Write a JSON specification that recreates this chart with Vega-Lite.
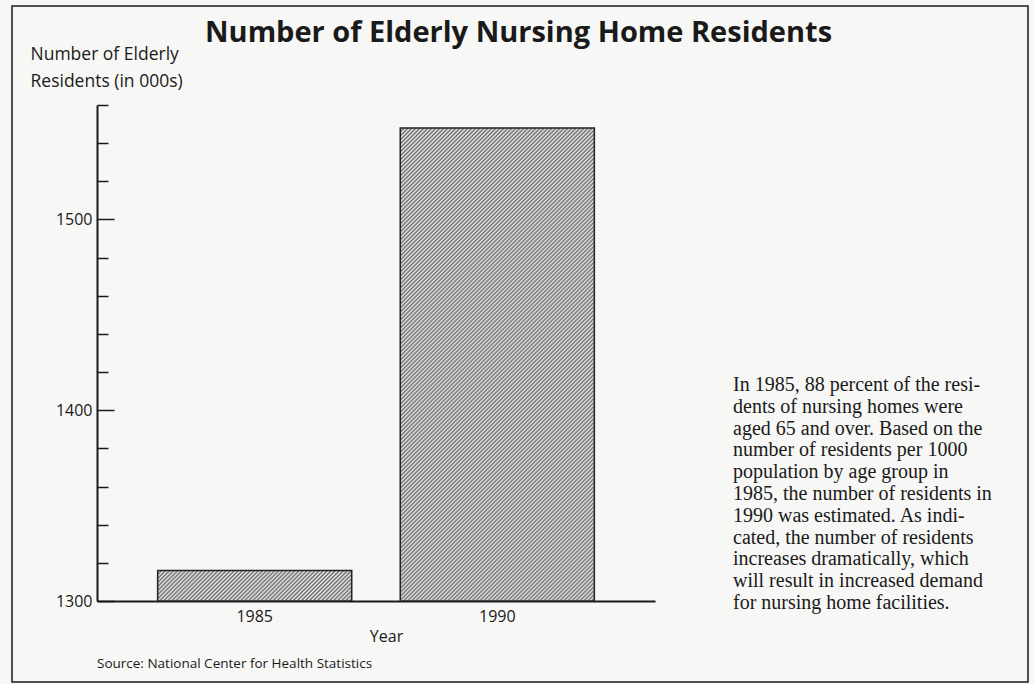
{
  "$schema": "https://vega.github.io/schema/vega-lite/v6.json",
  "autosize": "none",
  "width": 558,
  "height": 496,
  "padding": {"left": 97, "top": 105, "right": 379, "bottom": 83},
  "background": "#f7f7f5",
  "config": {"view": {"stroke": null}, "font": "Open Sans"},
  "title": {
    "text": "Number of Elderly Nursing Home Residents",
    "font": "Open Sans",
    "fontWeight": "bold",
    "fontSize": 29,
    "color": "#1a1a1a",
    "anchor": "start",
    "frame": "group",
    "baseline": "alphabetic",
    "dx": 108,
    "offset": -66
  },
  "layer": [
    {
      "data": {"values": [{}]},
      "mark": {
        "type": "rect",
        "x": {"expr": "-85"},
        "x2": {"expr": "width + 373"},
        "y": {"expr": "-99"},
        "y2": {"expr": "height + 81"},
        "fill": null,
        "stroke": "#1a1a1a",
        "strokeWidth": 1.5
      },
      "encoding": {}
    },
    {
      "data": {
        "values": [
          {"Year": "1985", "Residents": 1316},
          {"Year": "1990", "Residents": 1548}
        ]
      },
      "mark": {"type": "bar", "stroke": "#222222", "strokeWidth": 1.5},
      "encoding": {
        "x": {
          "field": "Year",
          "type": "nominal",
          "scale": {"paddingInner": 0.2, "paddingOuter": 0.25},
          "axis": {
            "title": "Year",
            "labelAngle": 0,
            "ticks": false,
            "domainColor": "#1a1a1a",
            "domainWidth": 2,
            "labelFont": "Open Sans",
            "labelFontSize": 16,
            "labelColor": "#1a1a1a",
            "labelPadding": 7,
            "titleFont": "Open Sans",
            "titleFontSize": 16,
            "titleFontWeight": "normal",
            "titleColor": "#1a1a1a",
            "titlePadding": 4,
            "titleX": 289
          }
        },
        "y": {
          "field": "Residents",
          "type": "quantitative",
          "scale": {"domain": [1300, 1560], "zero": false, "nice": false},
          "axis": {
            "values": [1300, 1320, 1340, 1360, 1380, 1400, 1420, 1440, 1460, 1480, 1500, 1520, 1540, 1560],
            "labelExpr": "datum.value % 100 === 0 ? datum.label : ''",
            "format": "d",
            "grid": false,
            "tickSize": {"condition": {"test": "datum.value % 100 === 0", "value": -17}, "value": -11},
            "tickColor": "#1a1a1a",
            "tickWidth": 1.5,
            "domainColor": "#1a1a1a",
            "domainWidth": 2,
            "labelFont": "Open Sans",
            "labelFontSize": 16,
            "labelColor": "#1a1a1a",
            "labelPadding": 22,
            "title": ["Number of Elderly", "Residents (in 000s)"],
            "titleAngle": 0,
            "titleAlign": "left",
            "titleBaseline": "top",
            "titleX": -67,
            "titleY": -60,
            "titleFont": "Open Sans",
            "titleFontSize": 17.5,
            "titleFontWeight": "normal",
            "titleColor": "#1a1a1a",
            "titleLineHeight": 27
          }
        },
        "y2": {"datum": 1300},
        "fill": {
          "condition": {
            "test": "datum.Year === '1985'",
            "value": {
              "gradient": "linear", "x1": 0, "y1": 0, "x2": 1.1293, "y2": 0.17745,
              "stops": [
                {"offset":0,"color":"#666"},{"offset":0.009,"color":"#eee"},{"offset":0.018,"color":"#666"},{"offset":0.027,"color":"#eee"},{"offset":0.036,"color":"#666"},{"offset":0.045,"color":"#eee"},{"offset":0.054,"color":"#666"},{"offset":0.063,"color":"#eee"},{"offset":0.072,"color":"#666"},{"offset":0.081,"color":"#eee"},
                {"offset":0.09,"color":"#666"},{"offset":0.099,"color":"#eee"},{"offset":0.108,"color":"#666"},{"offset":0.117,"color":"#eee"},{"offset":0.126,"color":"#666"},{"offset":0.135,"color":"#eee"},{"offset":0.144,"color":"#666"},{"offset":0.153,"color":"#eee"},{"offset":0.162,"color":"#666"},{"offset":0.171,"color":"#eee"},
                {"offset":0.18,"color":"#666"},{"offset":0.189,"color":"#eee"},{"offset":0.198,"color":"#666"},{"offset":0.207,"color":"#eee"},{"offset":0.216,"color":"#666"},{"offset":0.225,"color":"#eee"},{"offset":0.234,"color":"#666"},{"offset":0.243,"color":"#eee"},{"offset":0.252,"color":"#666"},{"offset":0.261,"color":"#eee"},
                {"offset":0.27,"color":"#666"},{"offset":0.279,"color":"#eee"},{"offset":0.288,"color":"#666"},{"offset":0.297,"color":"#eee"},{"offset":0.306,"color":"#666"},{"offset":0.315,"color":"#eee"},{"offset":0.324,"color":"#666"},{"offset":0.333,"color":"#eee"},{"offset":0.342,"color":"#666"},{"offset":0.351,"color":"#eee"},
                {"offset":0.36,"color":"#666"},{"offset":0.369,"color":"#eee"},{"offset":0.378,"color":"#666"},{"offset":0.387,"color":"#eee"},{"offset":0.396,"color":"#666"},{"offset":0.405,"color":"#eee"},{"offset":0.414,"color":"#666"},{"offset":0.423,"color":"#eee"},{"offset":0.432,"color":"#666"},{"offset":0.441,"color":"#eee"},
                {"offset":0.45,"color":"#666"},{"offset":0.459,"color":"#eee"},{"offset":0.468,"color":"#666"},{"offset":0.477,"color":"#eee"},{"offset":0.486,"color":"#666"},{"offset":0.495,"color":"#eee"},{"offset":0.504,"color":"#666"},{"offset":0.513,"color":"#eee"},{"offset":0.522,"color":"#666"},{"offset":0.531,"color":"#eee"},
                {"offset":0.54,"color":"#666"},{"offset":0.549,"color":"#eee"},{"offset":0.558,"color":"#666"},{"offset":0.567,"color":"#eee"},{"offset":0.576,"color":"#666"},{"offset":0.585,"color":"#eee"},{"offset":0.594,"color":"#666"},{"offset":0.603,"color":"#eee"},{"offset":0.612,"color":"#666"},{"offset":0.621,"color":"#eee"},
                {"offset":0.63,"color":"#666"},{"offset":0.639,"color":"#eee"},{"offset":0.648,"color":"#666"},{"offset":0.657,"color":"#eee"},{"offset":0.666,"color":"#666"},{"offset":0.675,"color":"#eee"},{"offset":0.684,"color":"#666"},{"offset":0.693,"color":"#eee"},{"offset":0.702,"color":"#666"},{"offset":0.711,"color":"#eee"},
                {"offset":0.72,"color":"#666"},{"offset":0.729,"color":"#eee"},{"offset":0.738,"color":"#666"},{"offset":0.747,"color":"#eee"},{"offset":0.756,"color":"#666"},{"offset":0.765,"color":"#eee"},{"offset":0.774,"color":"#666"},{"offset":0.783,"color":"#eee"},{"offset":0.792,"color":"#666"},{"offset":0.801,"color":"#eee"},
                {"offset":0.81,"color":"#666"},{"offset":0.819,"color":"#eee"},{"offset":0.828,"color":"#666"},{"offset":0.837,"color":"#eee"},{"offset":0.846,"color":"#666"},{"offset":0.855,"color":"#eee"},{"offset":0.864,"color":"#666"},{"offset":0.873,"color":"#eee"},{"offset":0.882,"color":"#666"},{"offset":0.891,"color":"#eee"},
                {"offset":0.9,"color":"#666"},{"offset":0.909,"color":"#eee"},{"offset":0.918,"color":"#666"},{"offset":0.927,"color":"#eee"},{"offset":0.936,"color":"#666"},{"offset":0.945,"color":"#eee"},{"offset":0.954,"color":"#666"},{"offset":0.963,"color":"#eee"},{"offset":0.972,"color":"#666"},{"offset":0.981,"color":"#eee"},
                {"offset":0.99,"color":"#666"},{"offset":0.999,"color":"#eee"}
              ]
            }
          },
          "value": {
            "gradient": "linear", "x1": 0, "y1": 0, "x2": 0.4953, "y2": 1.2071,
            "stops": [
              {"offset":0,"color":"#666"},{"offset":0.003,"color":"#eee"},{"offset":0.006,"color":"#666"},{"offset":0.009,"color":"#eee"},{"offset":0.012,"color":"#666"},{"offset":0.015,"color":"#eee"},{"offset":0.018,"color":"#666"},{"offset":0.021,"color":"#eee"},{"offset":0.024,"color":"#666"},{"offset":0.027,"color":"#eee"},
              {"offset":0.03,"color":"#666"},{"offset":0.033,"color":"#eee"},{"offset":0.036,"color":"#666"},{"offset":0.039,"color":"#eee"},{"offset":0.042,"color":"#666"},{"offset":0.045,"color":"#eee"},{"offset":0.048,"color":"#666"},{"offset":0.051,"color":"#eee"},{"offset":0.054,"color":"#666"},{"offset":0.057,"color":"#eee"},
              {"offset":0.06,"color":"#666"},{"offset":0.063,"color":"#eee"},{"offset":0.066,"color":"#666"},{"offset":0.069,"color":"#eee"},{"offset":0.072,"color":"#666"},{"offset":0.075,"color":"#eee"},{"offset":0.078,"color":"#666"},{"offset":0.081,"color":"#eee"},{"offset":0.084,"color":"#666"},{"offset":0.087,"color":"#eee"},
              {"offset":0.09,"color":"#666"},{"offset":0.093,"color":"#eee"},{"offset":0.096,"color":"#666"},{"offset":0.099,"color":"#eee"},{"offset":0.102,"color":"#666"},{"offset":0.105,"color":"#eee"},{"offset":0.108,"color":"#666"},{"offset":0.111,"color":"#eee"},{"offset":0.114,"color":"#666"},{"offset":0.117,"color":"#eee"},
              {"offset":0.12,"color":"#666"},{"offset":0.123,"color":"#eee"},{"offset":0.126,"color":"#666"},{"offset":0.129,"color":"#eee"},{"offset":0.132,"color":"#666"},{"offset":0.135,"color":"#eee"},{"offset":0.138,"color":"#666"},{"offset":0.141,"color":"#eee"},{"offset":0.144,"color":"#666"},{"offset":0.147,"color":"#eee"},
              {"offset":0.15,"color":"#666"},{"offset":0.153,"color":"#eee"},{"offset":0.156,"color":"#666"},{"offset":0.159,"color":"#eee"},{"offset":0.162,"color":"#666"},{"offset":0.165,"color":"#eee"},{"offset":0.168,"color":"#666"},{"offset":0.171,"color":"#eee"},{"offset":0.174,"color":"#666"},{"offset":0.177,"color":"#eee"},
              {"offset":0.18,"color":"#666"},{"offset":0.183,"color":"#eee"},{"offset":0.186,"color":"#666"},{"offset":0.189,"color":"#eee"},{"offset":0.192,"color":"#666"},{"offset":0.195,"color":"#eee"},{"offset":0.198,"color":"#666"},{"offset":0.201,"color":"#eee"},{"offset":0.204,"color":"#666"},{"offset":0.207,"color":"#eee"},
              {"offset":0.21,"color":"#666"},{"offset":0.213,"color":"#eee"},{"offset":0.216,"color":"#666"},{"offset":0.219,"color":"#eee"},{"offset":0.222,"color":"#666"},{"offset":0.225,"color":"#eee"},{"offset":0.228,"color":"#666"},{"offset":0.231,"color":"#eee"},{"offset":0.234,"color":"#666"},{"offset":0.237,"color":"#eee"},
              {"offset":0.24,"color":"#666"},{"offset":0.243,"color":"#eee"},{"offset":0.246,"color":"#666"},{"offset":0.249,"color":"#eee"},{"offset":0.252,"color":"#666"},{"offset":0.255,"color":"#eee"},{"offset":0.258,"color":"#666"},{"offset":0.261,"color":"#eee"},{"offset":0.264,"color":"#666"},{"offset":0.267,"color":"#eee"},
              {"offset":0.27,"color":"#666"},{"offset":0.273,"color":"#eee"},{"offset":0.276,"color":"#666"},{"offset":0.279,"color":"#eee"},{"offset":0.282,"color":"#666"},{"offset":0.285,"color":"#eee"},{"offset":0.288,"color":"#666"},{"offset":0.291,"color":"#eee"},{"offset":0.294,"color":"#666"},{"offset":0.297,"color":"#eee"},
              {"offset":0.3,"color":"#666"},{"offset":0.303,"color":"#eee"},{"offset":0.306,"color":"#666"},{"offset":0.309,"color":"#eee"},{"offset":0.312,"color":"#666"},{"offset":0.315,"color":"#eee"},{"offset":0.318,"color":"#666"},{"offset":0.321,"color":"#eee"},{"offset":0.324,"color":"#666"},{"offset":0.327,"color":"#eee"},
              {"offset":0.33,"color":"#666"},{"offset":0.333,"color":"#eee"},{"offset":0.336,"color":"#666"},{"offset":0.339,"color":"#eee"},{"offset":0.342,"color":"#666"},{"offset":0.345,"color":"#eee"},{"offset":0.348,"color":"#666"},{"offset":0.351,"color":"#eee"},{"offset":0.354,"color":"#666"},{"offset":0.357,"color":"#eee"},
              {"offset":0.36,"color":"#666"},{"offset":0.363,"color":"#eee"},{"offset":0.366,"color":"#666"},{"offset":0.369,"color":"#eee"},{"offset":0.372,"color":"#666"},{"offset":0.375,"color":"#eee"},{"offset":0.378,"color":"#666"},{"offset":0.381,"color":"#eee"},{"offset":0.384,"color":"#666"},{"offset":0.387,"color":"#eee"},
              {"offset":0.39,"color":"#666"},{"offset":0.393,"color":"#eee"},{"offset":0.396,"color":"#666"},{"offset":0.399,"color":"#eee"},{"offset":0.402,"color":"#666"},{"offset":0.405,"color":"#eee"},{"offset":0.408,"color":"#666"},{"offset":0.411,"color":"#eee"},{"offset":0.414,"color":"#666"},{"offset":0.417,"color":"#eee"},
              {"offset":0.42,"color":"#666"},{"offset":0.423,"color":"#eee"},{"offset":0.426,"color":"#666"},{"offset":0.429,"color":"#eee"},{"offset":0.432,"color":"#666"},{"offset":0.435,"color":"#eee"},{"offset":0.438,"color":"#666"},{"offset":0.441,"color":"#eee"},{"offset":0.444,"color":"#666"},{"offset":0.447,"color":"#eee"},
              {"offset":0.45,"color":"#666"},{"offset":0.453,"color":"#eee"},{"offset":0.456,"color":"#666"},{"offset":0.459,"color":"#eee"},{"offset":0.462,"color":"#666"},{"offset":0.465,"color":"#eee"},{"offset":0.468,"color":"#666"},{"offset":0.471,"color":"#eee"},{"offset":0.474,"color":"#666"},{"offset":0.477,"color":"#eee"},
              {"offset":0.48,"color":"#666"},{"offset":0.483,"color":"#eee"},{"offset":0.486,"color":"#666"},{"offset":0.489,"color":"#eee"},{"offset":0.492,"color":"#666"},{"offset":0.495,"color":"#eee"},{"offset":0.498,"color":"#666"},{"offset":0.501,"color":"#eee"},{"offset":0.504,"color":"#666"},{"offset":0.507,"color":"#eee"},
              {"offset":0.51,"color":"#666"},{"offset":0.513,"color":"#eee"},{"offset":0.516,"color":"#666"},{"offset":0.519,"color":"#eee"},{"offset":0.522,"color":"#666"},{"offset":0.525,"color":"#eee"},{"offset":0.528,"color":"#666"},{"offset":0.531,"color":"#eee"},{"offset":0.534,"color":"#666"},{"offset":0.537,"color":"#eee"},
              {"offset":0.54,"color":"#666"},{"offset":0.543,"color":"#eee"},{"offset":0.546,"color":"#666"},{"offset":0.549,"color":"#eee"},{"offset":0.552,"color":"#666"},{"offset":0.555,"color":"#eee"},{"offset":0.558,"color":"#666"},{"offset":0.561,"color":"#eee"},{"offset":0.564,"color":"#666"},{"offset":0.567,"color":"#eee"},
              {"offset":0.57,"color":"#666"},{"offset":0.573,"color":"#eee"},{"offset":0.576,"color":"#666"},{"offset":0.579,"color":"#eee"},{"offset":0.582,"color":"#666"},{"offset":0.585,"color":"#eee"},{"offset":0.588,"color":"#666"},{"offset":0.591,"color":"#eee"},{"offset":0.594,"color":"#666"},{"offset":0.597,"color":"#eee"},
              {"offset":0.6,"color":"#666"},{"offset":0.603,"color":"#eee"},{"offset":0.606,"color":"#666"},{"offset":0.609,"color":"#eee"},{"offset":0.612,"color":"#666"},{"offset":0.615,"color":"#eee"},{"offset":0.618,"color":"#666"},{"offset":0.621,"color":"#eee"},{"offset":0.624,"color":"#666"},{"offset":0.627,"color":"#eee"},
              {"offset":0.63,"color":"#666"},{"offset":0.633,"color":"#eee"},{"offset":0.636,"color":"#666"},{"offset":0.639,"color":"#eee"},{"offset":0.642,"color":"#666"},{"offset":0.645,"color":"#eee"},{"offset":0.648,"color":"#666"},{"offset":0.651,"color":"#eee"},{"offset":0.654,"color":"#666"},{"offset":0.657,"color":"#eee"},
              {"offset":0.66,"color":"#666"},{"offset":0.663,"color":"#eee"},{"offset":0.666,"color":"#666"},{"offset":0.669,"color":"#eee"},{"offset":0.672,"color":"#666"},{"offset":0.675,"color":"#eee"},{"offset":0.678,"color":"#666"},{"offset":0.681,"color":"#eee"},{"offset":0.684,"color":"#666"},{"offset":0.687,"color":"#eee"},
              {"offset":0.69,"color":"#666"},{"offset":0.693,"color":"#eee"},{"offset":0.696,"color":"#666"},{"offset":0.699,"color":"#eee"},{"offset":0.702,"color":"#666"},{"offset":0.705,"color":"#eee"},{"offset":0.708,"color":"#666"},{"offset":0.711,"color":"#eee"},{"offset":0.714,"color":"#666"},{"offset":0.717,"color":"#eee"},
              {"offset":0.72,"color":"#666"},{"offset":0.723,"color":"#eee"},{"offset":0.726,"color":"#666"},{"offset":0.729,"color":"#eee"},{"offset":0.732,"color":"#666"},{"offset":0.735,"color":"#eee"},{"offset":0.738,"color":"#666"},{"offset":0.741,"color":"#eee"},{"offset":0.744,"color":"#666"},{"offset":0.747,"color":"#eee"},
              {"offset":0.75,"color":"#666"},{"offset":0.753,"color":"#eee"},{"offset":0.756,"color":"#666"},{"offset":0.759,"color":"#eee"},{"offset":0.762,"color":"#666"},{"offset":0.765,"color":"#eee"},{"offset":0.768,"color":"#666"},{"offset":0.771,"color":"#eee"},{"offset":0.774,"color":"#666"},{"offset":0.777,"color":"#eee"},
              {"offset":0.78,"color":"#666"},{"offset":0.783,"color":"#eee"},{"offset":0.786,"color":"#666"},{"offset":0.789,"color":"#eee"},{"offset":0.792,"color":"#666"},{"offset":0.795,"color":"#eee"},{"offset":0.798,"color":"#666"},{"offset":0.801,"color":"#eee"},{"offset":0.804,"color":"#666"},{"offset":0.807,"color":"#eee"},
              {"offset":0.81,"color":"#666"},{"offset":0.813,"color":"#eee"},{"offset":0.816,"color":"#666"},{"offset":0.819,"color":"#eee"},{"offset":0.822,"color":"#666"},{"offset":0.825,"color":"#eee"},{"offset":0.828,"color":"#666"},{"offset":0.831,"color":"#eee"},{"offset":0.834,"color":"#666"},{"offset":0.837,"color":"#eee"},
              {"offset":0.84,"color":"#666"},{"offset":0.843,"color":"#eee"},{"offset":0.846,"color":"#666"},{"offset":0.849,"color":"#eee"},{"offset":0.852,"color":"#666"},{"offset":0.855,"color":"#eee"},{"offset":0.858,"color":"#666"},{"offset":0.861,"color":"#eee"},{"offset":0.864,"color":"#666"},{"offset":0.867,"color":"#eee"},
              {"offset":0.87,"color":"#666"},{"offset":0.873,"color":"#eee"},{"offset":0.876,"color":"#666"},{"offset":0.879,"color":"#eee"},{"offset":0.882,"color":"#666"},{"offset":0.885,"color":"#eee"},{"offset":0.888,"color":"#666"},{"offset":0.891,"color":"#eee"},{"offset":0.894,"color":"#666"},{"offset":0.897,"color":"#eee"},
              {"offset":0.9,"color":"#666"},{"offset":0.903,"color":"#eee"},{"offset":0.906,"color":"#666"},{"offset":0.909,"color":"#eee"},{"offset":0.912,"color":"#666"},{"offset":0.915,"color":"#eee"},{"offset":0.918,"color":"#666"},{"offset":0.921,"color":"#eee"},{"offset":0.924,"color":"#666"},{"offset":0.927,"color":"#eee"},
              {"offset":0.93,"color":"#666"},{"offset":0.933,"color":"#eee"},{"offset":0.936,"color":"#666"},{"offset":0.939,"color":"#eee"},{"offset":0.942,"color":"#666"},{"offset":0.945,"color":"#eee"},{"offset":0.948,"color":"#666"},{"offset":0.951,"color":"#eee"},{"offset":0.954,"color":"#666"},{"offset":0.957,"color":"#eee"},
              {"offset":0.96,"color":"#666"},{"offset":0.963,"color":"#eee"},{"offset":0.966,"color":"#666"},{"offset":0.969,"color":"#eee"},{"offset":0.972,"color":"#666"},{"offset":0.975,"color":"#eee"},{"offset":0.978,"color":"#666"},{"offset":0.981,"color":"#eee"},{"offset":0.984,"color":"#666"},{"offset":0.987,"color":"#eee"},
              {"offset":0.99,"color":"#666"},{"offset":0.993,"color":"#eee"},{"offset":0.996,"color":"#666"},{"offset":0.999,"color":"#eee"}
            ]
          }
        }
      }
    },
    {
      "data": {"values": [{}]},
      "mark": {
        "type": "text",
        "text": "Source: National Center for Health Statistics",
        "x": {"expr": "0"},
        "y": {"expr": "height + 63"},
        "align": "left",
        "baseline": "middle",
        "font": "Open Sans",
        "fontSize": 13.5,
        "color": "#1a1a1a"
      },
      "encoding": {}
    },
    {
      "data": {"values": [{}]},
      "mark": {
        "type": "text",
        "text": [
          "In 1985, 88 percent of the resi-",
          "dents of nursing homes were",
          "aged 65 and over. Based on the",
          "number of residents per 1000",
          "population by age group in",
          "1985, the number of residents in",
          "1990 was estimated. As indi-",
          "cated, the number of residents",
          "increases dramatically, which",
          "will result in increased demand",
          "for nursing home facilities."
        ],
        "x": {"expr": "width + 78"},
        "y": {"expr": "286"},
        "align": "left",
        "baseline": "alphabetic",
        "font": "Liberation Serif",
        "fontSize": 20,
        "lineHeight": 21.8,
        "color": "#1a1a1a"
      },
      "encoding": {}
    }
  ]
}
